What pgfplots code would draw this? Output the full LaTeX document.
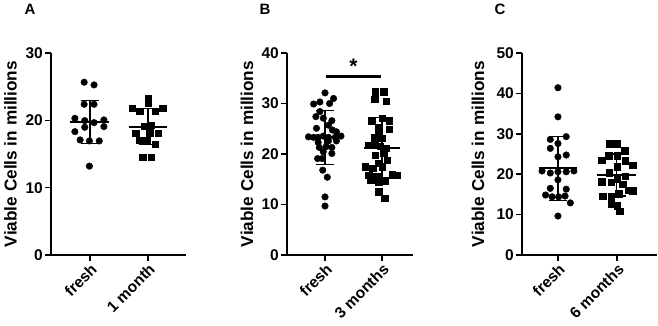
\documentclass[border=0pt]{standalone}
\usepackage{pgfplots}
\pgfplotsset{compat=1.18}
\usepackage{fontspec}
\setmainfont{Liberation Sans}
\newcommand\tfont{\bfseries\fontsize{15.5}{16}\selectfont}
\newcommand\lfont{\bfseries\fontsize{17.2}{18}\selectfont}
\pgfplotsset{
  panel/.style={
    scale only axis, height=202pt,
    anchor=south west,
    axis x line*=bottom, axis y line*=left,
    axis line style={line width=1.6pt,-},
    tick style={line width=1.6pt, black},
    major tick length=6pt, tick align=outside,
    xtick={0,1},
    enlargelimits=false,
    ymin=0,
    clip=false,
    /pgf/number format/assume math mode=true,
    yticklabel style={font=\tfont, inner sep=2pt},
    xticklabel style={font=\tfont, rotate=45, anchor=north east, inner sep=1pt},
    ylabel={Viable Cells in millions},
  },
  dots/.style={only marks, mark=*, mark size=3.3pt, black},
  sqs/.style={only marks, mark=square*, mark size=3.2pt, black},
  meanl/.style={line width=1.8pt, black, no marks},
  sdl/.style={line width=1.1pt, black, no marks, unbounded coords=jump},
}
\begin{document}
\begin{tikzpicture}
\useasboundingbox (0,0) rectangle (658pt,325pt);
% ---------------- Panel A ----------------
\begin{axis}[panel, at={(51pt,70pt)}, width=135pt,
  xmin=-0.672, xmax=1.655, ymax=30, ytick={0,10,20,30},
  xticklabels={fresh,1 month},
  ylabel style={at={(axis description cs:-0.30,0.5)}, anchor=center, font=\lfont}]
\addplot[dots] coordinates {(-0.10,25.66)(0.07,25.26)(-0.10,22.39)(0.07,22.39)(-0.26,20.3)(-0.09,19.96)(0.07,19.66)(0.24,20.06)(-0.26,18.32)(-0.09,18.97)(0.24,19.07)(-0.17,17.09)(-0.01,16.94)(0.16,16.94)(-0.01,13.2)};
\addplot[sqs] coordinates {(1.0,23.28)(1.0,22.6)(0.73,21.8)(0.86,21.4)(1.12,21.4)(1.25,21.8)(0.93,19.17)(1.06,19.3)(0.79,18.07)(1.03,18.17)(1.18,18.07)(0.86,17.09)(0.99,17.09)(1.12,16.5)(0.91,14.5)(1.05,14.5)};
\addplot[meanl] coordinates {(-0.336,19.7)(0.336,19.7)};
\addplot[sdl] coordinates {(0,16.6)(0,22.9) (nan,nan) (-0.16,22.9)(0.16,22.9) (nan,nan) (-0.16,16.6)(0.16,16.6)};
\addplot[meanl] coordinates {(0.664,19.0)(1.336,19.0)};
\addplot[sdl] coordinates {(1,16.35)(1,21.7) (nan,nan) (0.84,21.7)(1.16,21.7) (nan,nan) (0.84,16.35)(1.16,16.35)};
\end{axis}
% ---------------- Panel B ----------------
\begin{axis}[panel, at={(287pt,70pt)}, width=126pt,
  xmin=-0.667, xmax=1.544, ymax=40, ytick={0,10,20,30,40},
  xticklabels={fresh,3 months},
  ylabel style={at={(axis description cs:-0.317,0.5)}, anchor=center, font=\lfont}]
\addplot[dots] coordinates {(0,32.1)(-0.20,29.9)(-0.09,30.3)(0.08,30.0)(0.15,31.0)(-0.16,27.4)(-0.03,27.1)(0.12,26.6)(-0.15,25.1)(0.13,24.75)(-0.29,23.4)(-0.20,23.3)(-0.12,23.3)(-0.03,23.55)(0.06,23.3)(0.18,23.3)(0.28,23.55)(-0.12,22.3)(0.06,22.6)(0.20,22.6)(-0.10,21.3)(0.02,21.45)(0.12,21.3)(-0.03,20.45)(0.12,20.1)(-0.13,19.1)(-0.05,19.1)(-0.04,16.8)(0.04,15.4)(0,11.5)(0,9.7)(-0.09,28.4)(0.06,25.7)(0.20,24.4)};
\addplot[sqs] coordinates {(0.88,32.3)(1.03,32.3)(0.87,30.8)(1.07,30.4)(0.82,26.6)(1.0,27.1)(0.94,25.3)(1.13,24.95)(0.87,23.3)(1.0,23.1)(0.77,21.8)(0.97,21.6)(1.07,21.1)(0.87,22.1)(0.88,19.8)(1.03,20.1)(0.71,17.5)(0.84,17.2)(1.0,17.5)(0.77,15.8)(0.91,15.5)(1.18,15.9)(1.26,15.8)(0.8,14.9)(0.94,14.5)(1.06,14.7)(0.94,12.5)(1.05,11.2)(1.09,18.8)(0.94,18.2)(1.13,26.6)(0.94,23.9)};
\addplot[meanl] coordinates {(-0.32,23.4)(0.32,23.4)};
\addplot[sdl] coordinates {(0,18.0)(0,28.7) (nan,nan) (-0.15,28.7)(0.15,28.7) (nan,nan) (-0.15,18.0)(0.15,18.0)};
\addplot[meanl] coordinates {(0.68,21.25)(1.32,21.25)};
\addplot[sdl] coordinates {(1,15.3)(1,27.3) (nan,nan) (0.85,27.3)(1.15,27.3) (nan,nan) (0.85,15.3)(1.15,15.3)};
\addplot[line width=2.6pt, black, no marks] coordinates {(0.02,35.4)(0.98,35.4)};
\node[font=\bfseries\fontsize{21}{21}\selectfont, anchor=base] at (axis cs:0.5,35.9) {*};
\end{axis}
% ---------------- Panel C ----------------
\begin{axis}[panel, at={(522pt,70pt)}, width=135pt,
  xmin=-0.61, xmax=1.68, ymax=50, ytick={0,10,20,30,40,50},
  xticklabels={fresh,6 months},
  ylabel style={at={(axis description cs:-0.326,0.5)}, anchor=center, font=\lfont}]
\addplot[dots] coordinates {(0,41.4)(0,34.2)(0.14,29.3)(-0.13,28.6)(0,27.6)(-0.13,26.4)(0.14,24.75)(0,24.3)(-0.27,20.8)(-0.13,20.3)(0,20.6)(0.14,20.6)(0.27,20.8)(0,18.6)(-0.13,16.5)(0.14,16.3)(-0.21,14.85)(-0.10,14.4)(0.01,14.4)(0.12,14.6)(0.21,12.9)(0,9.65)};
\addplot[sqs] coordinates {(0.88,27.6)(1.0,27.6)(1.13,25.8)(0.86,24.6)(1.0,24.6)(0.74,23.4)(1.14,23.3)(1.27,22.3)(1.0,21.9)(0.87,20.4)(1.14,19.5)(0.74,18.1)(0.9,18.0)(1.1,17.5)(1.0,18.8)(1.2,16.0)(1.27,15.9)(0.76,14.6)(0.9,14.4)(1.03,15.2)(0.9,12.6)(1.0,12.2)(1.05,10.9)};
\addplot[meanl] coordinates {(-0.33,21.6)(0.33,21.6)};
\addplot[sdl] coordinates {(0,13.6)(0,29.3) (nan,nan) (-0.15,29.3)(0.15,29.3) (nan,nan) (-0.15,13.6)(0.15,13.6)};
\addplot[meanl] coordinates {(0.67,19.8)(1.33,19.8)};
\addplot[sdl] coordinates {(1,14.6)(1,25.0) (nan,nan) (0.85,25.0)(1.15,25.0) (nan,nan) (0.85,14.6)(1.15,14.6)};
\end{axis}
% panel letters
\node[font=\bfseries\fontsize{15}{15}\selectfont] at (30pt,316pt) {A};
\node[font=\bfseries\fontsize{15}{15}\selectfont] at (265pt,316pt) {B};
\node[font=\bfseries\fontsize{15}{15}\selectfont] at (500pt,316pt) {C};
\end{tikzpicture}
\end{document}
